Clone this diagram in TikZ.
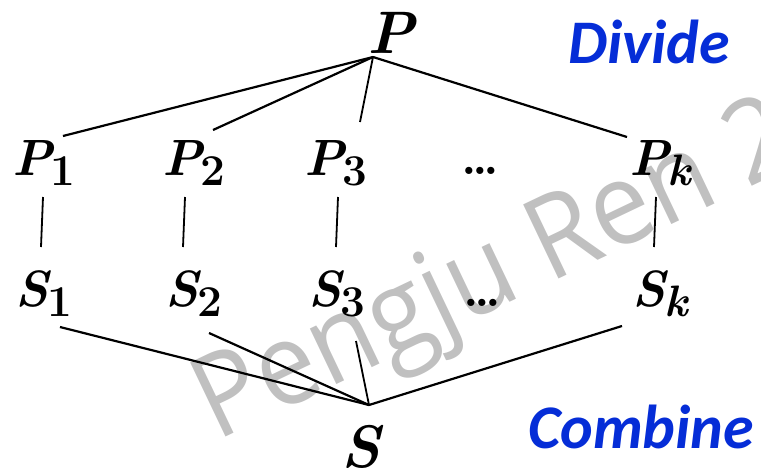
\documentclass[tikz,border=0pt]{standalone}
\usepackage{fontspec}
\newfontfamily\carl{Carlito}
\newfontfamily\wmfont{Open Sans}
\definecolor{divblue}{RGB}{5,45,215}
\definecolor{wmgray}{RGB}{192,192,192}
\newcommand\lbl[2]{{\fontsize{51}{51}\selectfont\bfseries\itshape #1\/\kern-4pt\raisebox{-10pt}{\fontsize{44}{44}\selectfont\upshape #2}}}
\newcommand\bigsym[1]{{\fontsize{60}{60}\selectfont\bfseries\itshape #1}}
\newcommand\threedots{{\bfseries\fontsize{50}{50}\selectfont.\kern-4.5pt.\kern-4.5pt.}}
\begin{document}
\begin{tikzpicture}[x=1pt,y=-1pt,
  lab/.style={inner sep=0pt,anchor=base west},
  conn/.style={line width=2.2pt},
  vconn/.style={line width=1.8pt},
  word/.style={inner sep=0pt,anchor=base west,text=divblue,font=\carl\bfseries\itshape\fontsize{62}{62}\selectfont},
  dotsn/.style={inner sep=0pt,anchor=base}]
\useasboundingbox (0,0) rectangle (761,469);
\begin{scope}
\clip (0,0) rectangle (761,469);
\node[rotate=25.5,xscale=0.93,anchor=base west,inner sep=0pt,text=wmgray,font=\wmfont\fontsize{115}{115}\selectfont] (wm) at (216,442) {Pengju Ren 2};
\end{scope}
% labels
\node[lab] (P) at (367,53) {\bigsym{P}};
\node[word] (divide) at (568,63) {Divide};
\node[lab] (P1) at (12,175) {\lbl{P}{1}};
\node[lab] (P2) at (162,175) {\lbl{P}{2}};
\node[lab] (P3) at (304,175) {\lbl{P}{3}};
\node[dotsn] (pd) at (480,174) {\threedots};
\node[lab] (Pk) at (629,175) {\lbl{P}{\itshape k}};
\node[lab] (S1) at (15,306) {\lbl{S}{1}};
\node[lab] (S2) at (165,306) {\lbl{S}{2}};
\node[lab] (S3) at (308,306) {\lbl{S}{3}};
\node[dotsn] (sd) at (482,306) {\threedots};
\node[lab] (Sk) at (632,306) {\lbl{S}{\itshape k}};
\node[lab] (S) at (341,467) {\bigsym{S}};
\node[word] (combine) at (528,448) {Combine};
% connector end points
\coordinate (Pa) at (373,57);
\coordinate (P1e) at (63,136);
\coordinate (P2e) at (213,130);
\coordinate (P3e) at (360,122);
\coordinate (Pke) at (627,137);
\coordinate (P1b) at (43,197);  \coordinate (S1t) at (41,247);
\coordinate (P2b) at (185,197); \coordinate (S2t) at (183,247);
\coordinate (P3b) at (338,197); \coordinate (S3t) at (336,247);
\coordinate (Pkb) at (656,197); \coordinate (Skt) at (654,247);
\coordinate (Sa) at (369,405);
\coordinate (S1e) at (60,327);
\coordinate (S2e) at (209,333);
\coordinate (S3e) at (356,341);
\coordinate (Ske) at (622,326);
% connectors
\draw[conn] (Pa) -- (P1e);
\draw[conn] (Pa) -- (P2e);
\draw[vconn] (Pa) -- (P3e);
\draw[conn] (Pa) -- (Pke);
\draw[vconn] (P1b) -- (S1t);
\draw[vconn] (P2b) -- (S2t);
\draw[vconn] (P3b) -- (S3t);
\draw[vconn] (Pkb) -- (Skt);
\draw[conn] (Sa) -- (S1e);
\draw[conn] (Sa) -- (S2e);
\draw[vconn] (Sa) -- (S3e);
\draw[conn] (Sa) -- (Ske);
\end{tikzpicture}
\end{document}
